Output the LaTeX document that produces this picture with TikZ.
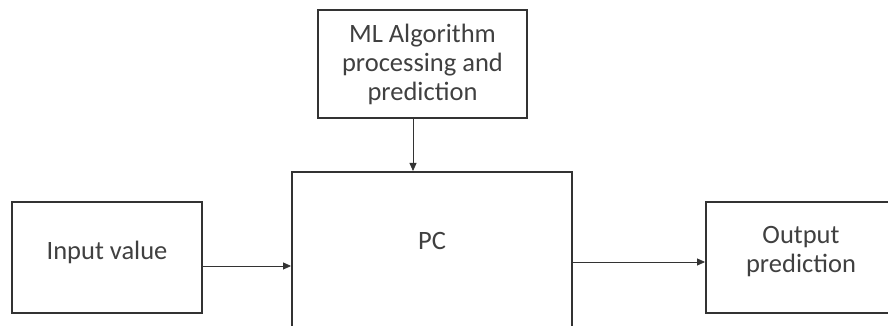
\documentclass[tikz,border=0pt]{standalone}
\usepackage{fontspec}
\setmainfont{Carlito}
\usepackage{xcolor}
\usepackage{tikz}
\usetikzlibrary{arrows.meta,positioning}
\definecolor{linec}{HTML}{333333}
\definecolor{textc}{HTML}{404040}
\tikzset{
  ar/.style={-{Triangle[length=8pt,width=7pt]},line width=0.8pt,linec},
  box/.style={draw=linec,line width=1.9pt,fill=white,align=center,inner sep=4pt,
    text=textc,font=\fontsize{26.5}{29}\selectfont}
}
\newcommand{\upby}[2]{\raisebox{#1}[\height][\depth]{#2}}

\begin{document}
\begin{tikzpicture}[x=1pt,y=1pt]
\useasboundingbox (0,0) rectangle (888,326);
\clip (0,0) rectangle (888,326);
\node[box,minimum width=209,minimum height=108] (ml) at (422.5,262) {ML Algorithm\\processing and\\prediction};
\node[box,minimum width=280,anchor=north,text height=74pt,text depth=110pt] (pc) at (432,155) {PC};
\node[box,minimum width=190,minimum height=111] (inp) at (107,68.5) {\upby{5pt}{Input value}};
\node[box,minimum width=190,minimum height=111] (outp) at (801,68.5)
  {\upby{5pt}{\begin{tabular}{@{}c@{}}Output\\prediction\end{tabular}}};
\draw[ar] ([xshift=-9.5pt]ml.south) -- ([xshift=-9.5pt]ml.south |- pc.north);
\draw[ar] ([yshift=-8.5pt]inp.east) -- ([yshift=-8.5pt]inp.east -| pc.west);
\draw[ar] ([yshift=-4.5pt]outp.west -| pc.east) -- ([yshift=-4.5pt]outp.west);
\end{tikzpicture}
\end{document}
